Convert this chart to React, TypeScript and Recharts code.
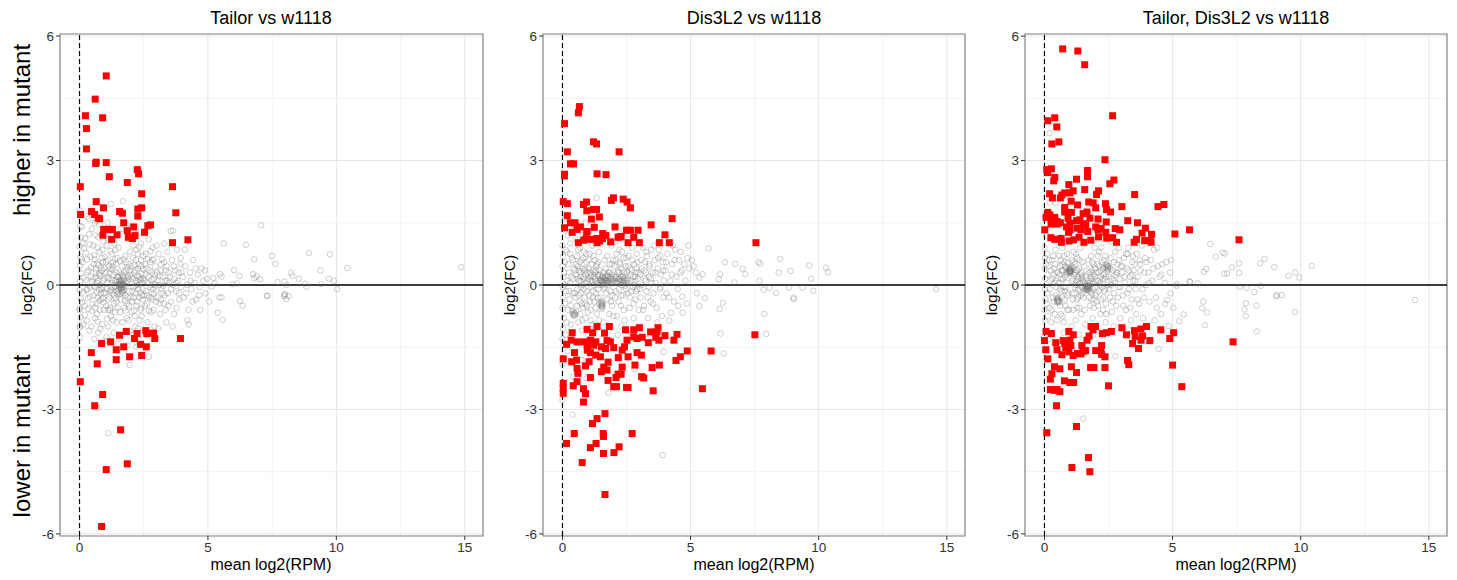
import React from 'react';
import { ScatterChart, Scatter, XAxis, YAxis, CartesianGrid, ReferenceLine, ReferenceArea } from 'recharts';

type Pt = [number, number];

const titles = ['Tailor vs w1118', 'Dis3L2 vs w1118', 'Tailor, Dis3L2 vs w1118'];
const xTicks = [0, 5, 10, 15];
const yTicks = [-6, -3, 0, 3, 6];
const xMinor = [2.5, 7.5, 12.5];
const yMinor = [-4.5, -1.5, 1.5, 4.5];

// ---- Tailor vs w1118 ----
const tailorSig: Pt[] = [
  [1.04, 5.04], [0.61, 4.48], [0.23, 4.08], [0.9, 4.03], [0.27, 3.77], [0.27, 3.28], [0.65, 2.96], [0.63, 2.93],
  [1.04, 2.95], [1.16, 2.61], [2.25, 2.78], [2.3, 2.68], [1.86, 2.47], [0.03, 2.37], [3.62, 2.37], [2.42, 2.2],
  [0.65, 2.01], [0.04, 1.7], [0.47, 1.77], [0.59, 1.7], [0.73, 1.61], [0.78, 1.6], [0.93, 1.86], [1.56, 1.77],
  [1.67, 1.73], [1.72, 1.5], [2.27, 1.83], [2.42, 1.86], [2.27, 1.66], [3.75, 1.74], [0.94, 1.34], [1.07, 1.34],
  [1.17, 1.34], [1.28, 1.34], [0.91, 1.2], [1.25, 1.1], [1.46, 1.21], [1.86, 1.31], [1.9, 1.15], [2.06, 1.12],
  [2.16, 1.19], [2.11, 1.4], [2.53, 1.27], [2.66, 1.43], [2.76, 1.45], [3.62, 1.02], [4.22, 1.09],
  [1.82, -1.12], [1.56, -1.21], [2.24, -1.17], [2.14, -1.29], [2.58, -1.1], [2.62, -1.17], [2.88, -1.16], [2.93, -1.29],
  [3.93, -1.29], [1.21, -1.37], [0.86, -1.41], [1.72, -1.49], [1.43, -1.56], [2.38, -1.43], [2.6, -1.49], [0.46, -1.63],
  [1.43, -1.8], [1.95, -1.73], [2.42, -1.7], [0.69, -1.9], [0.03, -2.33], [0.9, -2.64], [0.59, -2.91], [1.6, -3.49],
  [1.86, -4.31], [1.04, -4.45], [0.86, -5.82],
];

const tailorAll: Pt[] = [
  [0.0, 1.79], [0.03, 1.42], [0.05, 1.15], [0.0, 0.92], [0.04, 0.68], [0.01, 0.47], [0.06, 0.28], [0.02, 0.08],
  [0.0, -0.12], [0.05, -0.33], [0.01, -0.56], [0.04, -0.78], [0.0, -1.02], [0.03, -1.26], [0.12, 0.55], [0.15, -0.18],
  [0.18, 0.88], [0.2, -0.5], [0.22, 1.12], [0.25, 0.12], [0.28, -0.86], [0.3, 0.62], [0.33, -0.32], [0.36, 0.35],
  [0.38, -1.1], [0.4, 0.98], [0.42, -0.05], [0.45, 0.42], [0.47, -0.62], [0.48, 1.35], [0.1, 1.4], [0.35, 1.6],
  [0.15, -0.95], [0.3, -0.1], [0.44, 0.2],
  [0.08, 0.62], [0.11, -0.42], [0.14, 1.02], [0.17, 0.18], [0.21, -0.72], [0.24, 0.78], [0.27, -0.12], [0.31, 0.32],
  [0.34, -0.58], [0.37, 1.22], [0.41, -0.28], [0.43, 0.68], [0.46, -1.0], [0.49, 0.08],
  [0.52, 0.15], [0.55, -0.25], [0.57, 0.72], [0.6, -0.8], [0.62, 1.2], [0.64, 0.3], [0.66, -0.45], [0.68, 0.05],
  [0.7, 0.9], [0.72, -1.15], [0.74, 0.48], [0.76, -0.12], [0.78, 1.45], [0.8, -0.6], [0.82, 0.22], [0.84, -0.35],
  [0.86, 0.65], [0.88, -0.95], [0.9, 0.1], [0.92, 1.05], [0.94, -0.2], [0.96, 0.4], [0.98, -1.35], [0.55, 0.5],
  [0.6, -0.05], [0.65, 1.55], [0.7, -0.3], [0.75, 0.25], [0.8, 0.0], [0.85, -0.1], [0.9, 0.55], [0.95, -0.6],
  [0.58, -1.3], [0.68, -0.7], [0.78, 0.8], [0.88, 0.35], [0.93, -0.42], [0.73, 0.1], [0.83, -0.2], [0.63, 0.38],
  [0.51, -0.45], [0.53, 0.95], [0.56, -0.02], [0.59, 0.62], [0.61, -0.55], [0.63, 0.18], [0.67, -0.18], [0.69, 0.52],
  [0.71, -0.88], [0.73, 1.15], [0.77, -0.38], [0.79, 0.28], [0.81, -1.05], [0.83, 0.42], [0.87, -0.05], [0.89, 0.85],
  [0.91, -0.32], [0.97, 0.15], [0.99, 0.68],
  [1.02, 0.3], [1.04, -0.5], [1.06, 0.95], [1.08, -0.1], [1.1, 0.6], [1.12, -1.0], [1.14, 0.15], [1.16, -0.3],
  [1.18, 1.3], [1.2, 0.4], [1.22, -0.75], [1.24, 0.05], [1.26, 0.75], [1.28, -0.2], [1.3, -1.4], [1.32, 0.25],
  [1.34, -0.45], [1.36, 1.0], [1.38, 0.1], [1.4, -0.05], [1.42, 0.5], [1.44, -0.9], [1.46, -0.15], [1.48, 0.2],
  [1.05, -1.25], [1.1, 1.5], [1.15, 0.45], [1.2, -0.55], [1.25, -0.05], [1.3, 0.55], [1.35, -0.25], [1.4, 0.85],
  [1.45, -0.4], [1.08, 0.2], [1.18, -0.15], [1.28, 0.12], [1.38, -0.65], [1.48, 0.65], [1.22, 1.95], [1.33, -1.15],
  [1.12, -0.6], [1.43, 0.3], [1.27, 0.38], [1.37, -0.02], [1.47, -0.22],
  [1.01, -0.18], [1.03, 0.55], [1.07, -0.82], [1.09, 0.05], [1.11, 1.12], [1.13, -0.35], [1.17, 0.28], [1.19, -0.6],
  [1.21, 0.82], [1.23, -0.12], [1.29, 0.45], [1.31, -0.85], [1.39, 0.62], [1.41, -0.32], [1.44, 0.12], [1.49, -0.55],
  [1.5, 0.0], [1.52, -0.1], [1.54, 0.08], [1.56, -0.05], [1.58, 0.02], [1.6, -0.08], [1.62, 0.05], [1.64, -0.12],
  [1.66, 0.0], [1.68, -0.04], [1.55, 0.3], [1.6, -0.35], [1.65, 0.45], [1.7, -0.2], [1.72, 0.18], [1.75, -0.55],
  [1.78, 0.7], [1.8, -0.02], [1.82, 0.35], [1.84, -0.8], [1.86, 0.1], [1.88, -0.3], [1.9, 1.1], [1.92, 0.5],
  [1.94, -0.15], [1.96, -1.1], [1.98, 0.25], [1.52, 0.9], [1.57, -0.65], [1.62, 1.35], [1.67, -0.9], [1.72, 0.62],
  [1.77, -0.38], [1.82, 1.45], [1.87, -1.45], [1.92, -0.5], [1.97, 0.8], [1.53, -1.3], [1.63, 0.25], [1.73, -0.12],
  [1.83, 0.05], [1.93, 0.15], [1.58, 0.58], [1.68, 0.22], [1.78, -0.25], [1.88, 0.42], [1.61, 0.12], [1.65, -0.18],
  [1.59, -0.22], [1.7, 0.08],
  [1.51, 0.2], [1.53, -0.18], [1.55, 0.1], [1.57, 0.0], [1.59, 0.06], [1.6, -0.02], [1.61, 0.0], [1.62, -0.05],
  [1.63, 0.03], [1.64, -0.08], [1.66, 0.1], [1.67, -0.15], [1.69, 0.02], [1.71, -0.06], [1.73, 0.3], [1.76, 0.12],
  [1.79, -0.62], [1.81, 0.55], [1.85, -0.45], [1.89, 0.2], [1.91, -0.85], [1.95, 0.35], [1.99, -0.3],
  [2.02, 0.2], [2.05, -0.4], [2.08, 0.65], [2.1, -0.05], [2.12, 1.15], [2.15, -0.75], [2.18, 0.35], [2.2, -0.2],
  [2.22, 0.85], [2.25, 0.0], [2.28, -1.05], [2.3, 0.5], [2.32, -0.3], [2.35, 0.15], [2.38, 1.0], [2.4, -0.55],
  [2.42, 0.28], [2.45, -0.1], [2.48, 0.7], [2.04, 1.4], [2.1, -1.2], [2.16, 0.05], [2.22, -0.5], [2.28, 0.4],
  [2.34, -0.85], [2.4, 0.6], [2.46, -0.35], [2.06, -0.15], [2.14, 0.48], [2.26, 0.22], [2.36, -0.18], [2.44, 0.05],
  [2.2, 1.35], [2.3, -1.45], [2.12, -0.62], [2.32, 0.92], [2.18, -0.02], [2.42, -0.75], [2.48, 0.38], [2.38, 0.12],
  [2.01, 0.45], [2.03, -0.65], [2.07, 0.15], [2.09, 0.95], [2.11, -0.3], [2.13, 0.3], [2.17, -1.0], [2.19, 0.6],
  [2.21, 0.1], [2.24, -0.4], [2.27, 0.75], [2.29, -0.1], [2.31, 0.2], [2.37, -0.6], [2.39, 0.45], [2.43, -0.25],
  [2.47, 0.15],
  [2.52, 0.1], [2.55, -0.5], [2.58, 0.75], [2.6, -0.15], [2.62, 0.4], [2.65, -0.9], [2.68, 0.2], [2.7, 1.1],
  [2.72, -0.3], [2.75, 0.55], [2.78, 0.0], [2.8, -0.65], [2.82, 0.3], [2.85, 0.9], [2.88, -0.2], [2.9, 0.15],
  [2.92, -1.0], [2.95, 0.45], [2.98, -0.4], [2.54, 1.3], [2.6, -1.2], [2.66, 0.62], [2.74, -0.05], [2.84, -0.35],
  [2.9, 0.62], [2.56, 0.25], [2.7, -0.62], [2.8, 0.12], [2.94, 0.0], [2.64, -0.25], [2.76, 0.82], [2.86, -0.1],
  [2.51, -0.25], [2.57, 0.5], [2.63, -0.45], [2.67, 0.05], [2.73, 0.35], [2.79, -0.3], [2.83, 0.6], [2.89, -0.6],
  [2.93, 0.25], [2.97, -0.15],
  [3.02, 0.3], [3.05, -0.3], [3.08, 0.75], [3.1, 0.0], [3.14, -0.7], [3.18, 0.5], [3.2, -0.1], [3.24, 0.2],
  [3.28, -0.45], [3.3, 1.0], [3.34, 0.1], [3.38, -0.9], [3.4, 0.45], [3.44, -0.2], [3.48, 0.05], [3.06, -1.05],
  [3.12, 0.22], [3.22, 0.62], [3.32, -0.25], [3.42, 0.8], [3.16, -0.35], [3.36, 0.35], [3.46, -0.5], [3.26, -0.02],
  [3.0, 0.95], [3.04, 0.1], [3.11, -0.45], [3.17, 0.35], [3.23, -0.2], [3.29, 0.55], [3.35, -0.6], [3.41, 0.1],
  [3.47, 0.3],
  [3.52, 0.2], [3.56, -0.4], [3.6, 0.6], [3.64, 0.0], [3.68, -0.7], [3.72, 0.35], [3.76, -0.15], [3.8, 0.85],
  [3.84, 0.1], [3.88, -0.35], [3.92, 0.5], [3.96, -0.05], [3.55, 1.3], [3.62, -1.0], [3.7, 0.15], [3.78, -0.55],
  [3.86, 0.3], [3.94, 0.65], [3.57, -0.1], [3.67, 0.45], [3.77, 0.05], [3.87, -0.2], [3.97, 0.3],
  [4.02, 0.2], [4.06, -0.3], [4.12, 0.45], [4.18, 0.0], [4.24, -0.6], [4.3, 0.3], [4.36, -0.1], [4.42, 0.6],
  [4.48, 0.05], [4.55, -0.35], [4.6, 0.25], [4.68, -0.05], [4.75, 0.4], [4.82, 0.1], [4.9, -0.2], [4.96, 0.15],
  [4.1, 0.85], [4.2, -0.85], [4.4, -0.4], [4.7, -0.6], [4.15, -0.2], [4.33, 0.1], [4.52, 0.4], [4.65, -0.25],
  [4.88, 0.35],
  [5.05, -0.4], [5.14, -0.04], [5.21, 0.17], [5.27, 0.04], [5.38, -0.67], [5.44, -0.3], [5.47, 0.26], [5.53, 0.2],
  [5.53, -0.3], [5.57, -0.84], [5.61, 1.0], [5.96, 0.02], [6.02, 0.36], [6.13, 0.04], [6.22, 0.22], [6.25, -0.39],
  [6.35, -0.5], [6.48, 0.97], [6.75, 0.26], [6.8, 0.16], [6.8, 0.62], [6.9, 0.2], [7.03, 0.14], [7.07, 1.44],
  [7.29, -0.26], [7.32, -0.26], [7.5, 0.7], [7.63, 0.51], [7.71, 0.07], [7.97, -0.28], [7.98, 0.08], [7.98, -0.24],
  [8.0, -0.22], [8.05, 0.0], [8.05, -0.34], [8.14, -0.27], [8.24, 0.29], [8.29, 0.22], [8.54, 0.15], [8.79, 0.03],
  [8.83, -0.04], [8.93, 0.77], [9.38, 0.35], [9.41, 0.02], [9.71, 0.15], [9.75, 0.74], [9.9, 0.1], [10.03, -0.1],
  [10.43, 0.41], [14.86, 0.43],
  [2.21, -1.49], [2.7, -1.73], [1.95, -1.93], [1.12, -3.57], [0.69, -2.96], [0.0, -0.6], [0.02, -1.0], [1.69, 2.02],
  [3.64, 1.31], [4.25, -0.95], [0.3, 1.65], [0.6, 1.5], [2.6, -1.5],
];

// ---- Dis3L2 vs w1118 ----
const dis3Sig: Pt[] = [
  [0.66, 4.3], [0.62, 4.15], [0.08, 3.89], [0.19, 3.21], [1.21, 3.45], [1.33, 3.4], [2.21, 3.21], [0.31, 2.92],
  [0.43, 2.92], [0.08, 2.67], [0.08, 2.63], [1.35, 2.68], [1.7, 2.66], [0.03, 2.01], [0.19, 1.96], [0.82, 1.94],
  [0.94, 2.0], [1.21, 1.82], [1.33, 1.82], [0.95, 1.79], [1.91, 2.04], [1.99, 2.1], [2.37, 2.07], [2.52, 2.0],
  [2.65, 1.86], [0.19, 1.67], [1.13, 1.59], [1.44, 1.64], [4.28, 1.6], [0.31, 1.5], [0.49, 1.5], [0.08, 1.38],
  [0.38, 1.27], [0.57, 1.34], [0.7, 1.4], [0.96, 1.29], [1.24, 1.39], [2.05, 1.4], [3.46, 1.45], [2.5, 1.32],
  [2.65, 1.32], [2.95, 1.32], [4.0, 1.21], [1.57, 1.24], [1.69, 1.19], [2.17, 1.15], [2.29, 1.17], [1.35, 1.12],
  [1.56, 1.12], [0.92, 1.12], [2.78, 1.15], [0.62, 1.02], [0.83, 1.08], [1.35, 1.02], [1.88, 1.04], [2.56, 1.02],
  [3.0, 1.02], [3.78, 1.02], [4.17, 1.02], [7.55, 1.02], [0.95, 1.28], [2.25, 1.16], [1.45, 1.06], [1.1, 1.1],
  [1.35, -1.0], [1.83, -1.0], [3.0, -1.03], [3.73, -1.03], [0.96, -1.07], [2.46, -1.08], [2.78, -1.08], [3.44, -1.13],
  [3.69, -1.13], [0.38, -1.15], [1.18, -1.15], [1.64, -1.16], [4.47, -1.19], [7.51, -1.2], [4.0, -1.22], [2.78, -1.25],
  [3.11, -1.26], [2.52, -1.33], [2.91, -1.29], [3.64, -1.26], [3.76, -1.33], [0.34, -1.33], [0.57, -1.37], [0.83, -1.37],
  [1.09, -1.33], [1.3, -1.37], [1.74, -1.34], [1.87, -1.37], [0.16, -1.43], [0.96, -1.45], [1.22, -1.45], [3.35, -1.39],
  [4.35, -1.33], [1.52, -1.49], [1.68, -1.53], [2.0, -1.51], [2.42, -1.49], [2.33, -1.57], [0.97, -1.57], [1.09, -1.63],
  [1.3, -1.69], [1.48, -1.73], [0.47, -1.63], [2.91, -1.63], [3.08, -1.69], [4.87, -1.59], [5.8, -1.59], [0.03, -1.78],
  [2.18, -1.75], [2.56, -1.73], [4.6, -1.73], [4.43, -1.82], [0.36, -1.85], [0.55, -1.81], [1.04, -1.85], [1.78, -1.86],
  [2.83, -1.93], [3.78, -1.93], [0.9, -1.95], [0.57, -2.01], [1.61, -1.98], [2.33, -1.98], [3.5, -1.99], [1.52, -2.09],
  [1.74, -2.05], [0.6, -2.13], [2.29, -2.15], [2.17, -2.15], [1.09, -2.23], [2.09, -2.23], [3.09, -2.21], [3.17, -2.24],
  [1.78, -2.3], [0.57, -2.33], [0.03, -2.37], [0.42, -2.43], [2.0, -2.45], [2.11, -2.45], [2.5, -2.47], [2.56, -2.47],
  [0.03, -2.49], [0.03, -2.61], [0.82, -2.5], [3.54, -2.55], [5.46, -2.5], [0.9, -2.62], [0.82, -2.82], [1.66, -3.1],
  [1.35, -3.22], [1.17, -3.34], [0.46, -3.58], [1.59, -3.58], [1.6, -3.65], [2.72, -3.58], [0.16, -3.82], [1.31, -3.82],
  [1.09, -3.92], [2.21, -3.9], [1.6, -4.06], [2.01, -4.04], [0.77, -4.28], [1.66, -5.05],
];

const dis3All: Pt[] = [
  [0.0, 0.95], [0.02, 0.7], [0.0, 0.45], [0.04, 0.2], [0.01, -0.05], [0.03, -0.3], [0.0, -0.55], [0.05, -0.8],
  [0.02, -1.05], [0.0, -1.3], [0.1, 0.55], [0.14, -0.15], [0.18, 0.8], [0.22, -0.6], [0.25, 0.3], [0.28, -0.35],
  [0.3, 0.05], [0.33, -0.95], [0.36, 0.65], [0.4, -0.7], [0.42, 0.15], [0.45, -0.75], [0.48, -0.2], [0.2, 1.2],
  [0.38, -0.62], [0.46, -0.68], [0.12, -1.2], [0.3, 1.0], [0.44, 0.4], [0.08, 0.0],
  [0.06, 0.3], [0.09, -0.45], [0.12, 0.85], [0.16, -0.9], [0.19, 0.1], [0.23, 0.5], [0.26, -0.15], [0.29, 0.75],
  [0.32, -0.5], [0.35, 0.2], [0.39, -0.2], [0.41, 0.6], [0.43, -0.72], [0.44, -0.65], [0.47, -0.7], [0.49, 0.35],
  [0.52, 0.25], [0.54, -0.65], [0.56, 0.7], [0.58, -0.1], [0.6, 0.45], [0.62, -0.9], [0.64, 0.1], [0.66, -0.4],
  [0.68, 0.9], [0.7, 0.3], [0.72, -0.2], [0.74, 0.6], [0.76, -1.1], [0.78, 0.0], [0.8, -0.55], [0.82, 0.2],
  [0.84, 0.8], [0.86, -0.3], [0.88, 0.4], [0.9, -0.8], [0.92, 0.05], [0.94, 0.55], [0.96, -0.15], [0.98, 0.3],
  [0.5, -0.72], [0.55, 1.1], [0.65, 0.35], [0.75, -0.45], [0.85, 0.15], [0.95, -0.5], [0.6, -1.4], [0.8, 1.2],
  [0.7, 0.1], [0.9, 0.25],
  [0.51, -0.3], [0.53, 0.5], [0.57, -0.5], [0.59, 0.15], [0.61, 0.85], [0.63, -0.25], [0.67, 0.55], [0.69, -0.7],
  [0.71, 0.2], [0.73, -0.05], [0.77, 0.4], [0.79, -0.85], [0.81, 0.65], [0.83, -0.1], [0.87, 0.35], [0.89, -0.45],
  [0.93, 0.75], [0.97, 0.1], [0.99, -0.65],
  [1.02, 0.4], [1.04, -0.25], [1.06, 0.75], [1.08, 0.1], [1.1, -0.6], [1.12, 0.25], [1.14, -0.05], [1.16, 0.95],
  [1.18, -0.95], [1.2, 0.35], [1.22, 0.0], [1.24, -0.4], [1.26, 0.6], [1.28, 0.15], [1.3, -0.2], [1.32, 0.45],
  [1.34, -0.7], [1.36, 0.05], [1.38, 0.25], [1.4, -0.1], [1.42, 0.8], [1.44, -0.45], [1.46, 0.12], [1.48, -0.3],
  [1.05, 1.3], [1.15, -1.25], [1.25, 0.3], [1.35, 0.5], [1.45, 0.35], [1.1, 0.2], [1.3, 0.1], [1.4, 0.2],
  [1.2, -0.15], [1.33, 2.1], [1.27, -1.05],
  [1.01, 0.15], [1.03, 0.6], [1.07, -0.4], [1.09, 0.3], [1.11, -0.85], [1.13, 0.5], [1.17, 0.1], [1.19, -0.3],
  [1.21, 0.7], [1.23, 0.2], [1.29, -0.55], [1.31, 0.35], [1.37, -0.3], [1.39, 0.55], [1.41, 0.0], [1.43, -0.85],
  [1.47, 0.25], [1.49, 0.1],
  [1.5, -0.45], [1.52, -0.5], [1.54, -0.47], [1.53, -0.52], [1.55, -0.42], [1.51, -0.4], [1.56, -0.55],
  [1.52, -0.58], [1.55, -0.5], [1.58, -0.45],
  [1.5, 0.1], [1.55, 0.2], [1.58, 0.0], [1.6, 0.3], [1.62, -0.1], [1.64, 0.15], [1.66, 0.05], [1.68, 0.4],
  [1.7, -0.2], [1.72, 0.1], [1.74, 0.7], [1.76, -0.35], [1.78, 0.2], [1.8, 0.0], [1.82, -0.7], [1.84, 0.5],
  [1.86, 0.12], [1.88, -0.15], [1.9, 0.95], [1.92, 0.25], [1.94, -0.5], [1.96, 0.05], [1.98, 0.6], [1.6, -0.9],
  [1.7, 1.2], [1.8, -1.1], [1.65, 0.6], [1.75, 0.25], [1.85, 0.3], [1.95, -0.25], [1.57, 0.08], [1.69, 0.12],
  [1.79, 0.05], [1.9, 0.15],
  [1.52, 0.15], [1.54, 0.05], [1.56, 0.1], [1.58, 0.2], [1.6, 0.08], [1.63, 0.12], [1.65, -0.05], [1.67, 0.18],
  [1.71, 0.05], [1.73, 0.22], [1.77, 0.1], [1.81, 0.3], [1.83, 0.05], [1.87, 0.2], [1.89, -0.4], [1.91, 0.08],
  [1.93, 0.5], [1.97, 0.15], [1.99, -0.75],
  [2.02, 0.2], [2.05, -0.3], [2.08, 0.6], [2.1, 0.05], [2.12, -0.75], [2.15, 0.3], [2.18, 0.1], [2.2, -0.1],
  [2.22, 0.85], [2.25, 0.15], [2.28, -0.5], [2.3, 0.4], [2.32, 0.0], [2.35, -0.25], [2.38, 0.65], [2.4, 0.1],
  [2.42, -0.85], [2.45, 0.25], [2.48, -0.1], [2.06, 1.05], [2.16, -1.2], [2.26, 0.5], [2.36, 0.2], [2.46, 0.45],
  [2.12, 0.15], [2.24, 0.08], [2.34, 0.12], [2.44, -0.02], [2.2, 0.3], [2.3, -1.0],
  [2.01, 0.1], [2.03, 0.45], [2.07, -0.15], [2.09, 0.2], [2.11, 0.75], [2.13, 0.05], [2.17, 0.35], [2.19, -0.4],
  [2.21, 0.15], [2.23, 0.55], [2.27, 0.1], [2.29, -0.25], [2.31, 0.2], [2.33, 0.8], [2.37, 0.05], [2.39, -0.6],
  [2.41, 0.3], [2.43, 0.15], [2.47, 0.05], [2.49, 0.65],
  [2.52, 0.3], [2.55, -0.2], [2.58, 0.7], [2.6, 0.05], [2.62, -0.55], [2.65, 0.4], [2.68, 0.1], [2.7, -0.15],
  [2.72, 0.9], [2.75, 0.2], [2.78, -0.8], [2.8, 0.5], [2.82, 0.0], [2.85, -0.35], [2.88, 0.3], [2.9, 0.75],
  [2.92, -0.1], [2.95, 0.15], [2.98, -0.6], [2.6, 1.1], [2.7, 0.35], [2.8, -1.1], [2.9, 0.4], [2.55, 0.12],
  [2.75, -0.05], [2.85, 0.1], [2.51, 0.1], [2.57, 0.45], [2.63, -0.3], [2.67, 0.25], [2.73, 0.6], [2.77, -0.45],
  [2.83, 0.2], [2.87, -0.15], [2.93, 0.55], [2.97, 0.3],
  [3.02, 0.25], [3.05, -0.3], [3.08, 0.6], [3.1, 0.0], [3.14, 0.9], [3.18, -0.5], [3.2, 0.35], [3.24, 0.1],
  [3.28, -0.15], [3.3, 0.7], [3.34, -0.8], [3.38, 0.2], [3.4, 0.45], [3.44, -0.4], [3.48, 0.05], [3.12, -1.0],
  [3.22, 0.55], [3.36, -0.05], [3.46, 0.85], [3.26, 0.3], [3.03, -0.1], [3.09, 0.4], [3.15, -0.6], [3.21, 0.15],
  [3.27, 0.8], [3.33, -0.3], [3.39, 0.5], [3.45, 0.15],
  [3.52, 0.3], [3.55, -0.2], [3.6, 0.6], [3.64, 0.05], [3.68, -0.55], [3.72, 0.4], [3.76, 0.85], [3.8, -0.1],
  [3.84, 0.25], [3.88, -0.75], [3.92, 0.55], [3.96, 0.1], [3.58, 0.95], [3.7, -0.9], [3.82, 0.7], [3.94, -0.3],
  [3.53, -0.45], [3.63, 0.3], [3.73, 0.65], [3.83, -0.05], [3.93, 0.35],
  [4.02, 0.35], [4.06, -0.2], [4.1, 0.75], [4.17, -0.86], [4.24, -0.67], [4.2, 0.1], [4.28, 0.5], [4.35, -0.4],
  [4.4, 0.85], [4.45, 0.2], [4.5, -0.1], [4.55, 0.6], [4.6, 0.3], [4.68, -0.28], [4.69, -0.67], [4.75, 0.5],
  [4.8, 0.1], [4.91, 0.95], [4.95, 0.4], [4.85, -0.45], [4.3, 0.95], [4.62, 0.8], [4.04, 0.55], [4.15, -0.3],
  [4.27, 0.25], [4.38, 0.6], [4.52, -0.5], [4.66, 0.35], [4.88, 0.65],
  [5.05, 0.6], [5.12, 0.45], [5.2, 0.3], [5.25, -0.2], [5.34, 0.18], [5.34, -0.51], [5.47, 0.26], [5.56, -0.32],
  [5.7, 0.88], [6.1, 0.14], [6.13, -0.58], [6.16, 0.26], [6.17, -1.17], [6.26, -0.43], [6.29, -1.65], [6.34, 0.55],
  [6.71, 0.06], [6.74, 0.51], [7.03, 0.39], [7.13, 0.26], [7.65, 0.55], [7.69, 0.1], [7.72, 0.51], [7.85, -0.12],
  [7.88, -0.7], [7.95, -1.18], [8.08, -0.07], [8.34, -0.19], [8.44, 0.3], [8.5, 0.63], [8.84, -0.06], [8.9, 0.34],
  [9.02, -0.31], [9.02, -0.34], [9.37, -0.06], [9.63, 0.47], [9.71, 0.15], [9.79, -0.14], [10.28, 0.42], [10.36, 0.31],
  [14.58, -0.1],
  [3.95, -1.61], [3.91, -4.1], [0.39, -3.13], [1.79, -2.6], [2.81, -2.03], [0.0, -2.77], [0.42, -2.21], [0.94, -2.25],
  [0.74, -1.81], [0.2, -1.6], [1.4, -1.5], [2.5, -1.35], [3.3, -1.3], [0.0, -1.9], [1.1, -1.7],
  [0.3, 1.4], [0.9, 1.5], [2.4, 1.3], [0.1, 1.6],
];

// ---- Tailor, Dis3L2 vs w1118 ----
const bothSig: Pt[] = [
  [0.71, 5.69], [1.3, 5.64], [1.57, 5.31], [0.4, 4.03], [0.13, 3.96], [2.66, 4.08], [0.48, 3.81], [0.29, 3.4],
  [0.56, 3.45], [2.36, 3.02], [0.09, 2.78], [0.27, 2.8], [0.13, 2.71], [1.68, 2.76], [1.68, 2.61], [0.4, 2.59],
  [0.36, 2.51], [1.25, 2.55], [2.71, 2.53], [2.55, 2.44], [0.95, 2.42], [1.57, 2.3], [2.11, 2.27], [2.03, 2.18],
  [1.12, 2.27], [0.99, 2.22], [0.2, 2.2], [0.31, 2.1], [0.68, 2.17], [0.79, 2.22], [0.62, 2.1], [3.52, 2.18],
  [1.04, 2.02], [1.29, 1.93], [1.73, 2.0], [1.9, 1.98], [2.38, 1.96], [3.02, 1.89], [4.43, 1.89], [4.66, 1.94],
  [0.79, 1.87], [0.79, 1.76], [2.0, 1.86], [0.13, 1.75], [0.21, 1.69], [0.06, 1.63], [1.05, 1.75], [1.51, 1.72],
  [1.66, 1.76], [2.42, 1.82], [2.58, 1.76], [0.26, 1.59], [0.4, 1.63], [0.49, 1.53], [0.62, 1.5], [0.92, 1.61],
  [0.99, 1.49], [1.25, 1.55], [1.38, 1.57], [1.51, 1.48], [1.77, 1.61], [2.09, 1.59], [2.41, 1.52], [3.25, 1.55],
  [3.63, 1.5], [0.26, 1.47], [0.49, 1.47], [0.86, 1.4], [0.99, 1.33], [0.94, 1.27], [1.27, 1.37], [1.42, 1.33],
  [1.61, 1.44], [1.69, 1.29], [2.0, 1.4], [2.09, 1.33], [2.21, 1.36], [2.39, 1.27], [2.76, 1.36], [2.94, 1.33],
  [3.94, 1.37], [3.81, 1.25], [4.18, 1.22], [5.09, 1.23], [5.66, 1.33], [0.01, 1.33], [0.25, 1.14], [0.4, 1.1],
  [0.65, 1.12], [0.66, 1.03], [0.96, 1.06], [1.14, 1.09], [1.35, 1.15], [1.54, 1.03], [1.81, 1.08], [2.11, 1.16],
  [2.43, 1.13], [2.66, 1.14], [2.81, 1.03], [3.5, 1.03], [3.59, 1.1], [3.91, 1.07], [4.13, 1.07], [4.16, 1.03],
  [7.59, 1.09],
  [0.06, -1.12], [0.27, -1.17], [0.0, -1.34], [0.05, -1.56], [0.13, -1.78], [0.95, -1.12], [1.12, -1.2], [0.44, -1.39],
  [0.49, -1.56], [0.73, -1.34], [0.79, -1.41], [0.83, -1.51], [0.99, -1.33], [1.03, -1.46], [0.68, -1.68], [0.95, -1.61],
  [1.12, -1.7], [1.29, -1.65], [1.42, -1.66], [1.51, -1.6], [1.6, -1.58], [1.46, -1.46], [1.66, -1.33], [1.74, -1.23],
  [1.82, -1.0], [1.99, -1.0], [1.89, -1.08], [2.26, -1.17], [2.42, -1.15], [2.61, -1.12], [3.02, -1.03], [3.2, -1.2],
  [3.51, -1.1], [3.54, -1.24], [3.44, -1.41], [3.67, -1.53], [3.76, -1.06], [3.98, -1.0], [3.83, -1.23], [3.77, -1.33],
  [4.11, -1.34], [4.54, -1.08], [5.04, -1.15], [4.89, -1.29], [7.36, -1.37], [2.0, -1.58], [2.19, -1.58], [2.23, -1.46],
  [2.36, -1.73], [2.23, -1.67], [3.24, -1.82], [3.29, -1.92], [5.0, -1.93], [0.39, -1.97], [0.6, -2.02], [1.05, -1.97],
  [1.25, -2.11], [1.8, -1.99], [1.93, -1.99], [2.36, -1.99], [0.29, -2.14], [0.23, -2.27], [0.78, -2.31], [0.99, -2.35],
  [1.14, -2.35], [2.5, -2.43], [5.36, -2.45], [0.23, -2.52], [0.39, -2.54], [0.49, -2.52], [0.6, -2.57], [0.47, -2.91],
  [0.09, -3.56], [1.25, -3.41], [1.72, -4.16], [1.07, -4.4], [1.77, -4.5],
];

const bothAll: Pt[] = [
  [0.0, 0.9], [0.02, 0.65], [0.0, 0.4], [0.03, 0.15], [0.01, -0.1], [0.04, -0.35], [0.0, -0.6], [0.02, -0.85],
  [0.05, -1.1], [0.1, 0.75], [0.13, -0.2], [0.16, 0.45], [0.2, -0.55], [0.23, 0.1], [0.26, -0.9], [0.3, 0.6],
  [0.33, -0.3], [0.36, 0.25], [0.4, -0.7], [0.43, 0.85], [0.46, -0.05], [0.48, -0.4], [0.2, 1.99], [0.44, 1.98],
  [0.2, 3.66], [0.08, 1.2], [0.25, 1.4], [0.38, 0.4], [0.15, -1.3], [0.45, 0.1],
  [0.06, 0.5], [0.09, -0.45], [0.11, 0.25], [0.14, -0.75], [0.18, 0.6], [0.21, -0.1], [0.24, 0.35], [0.28, -0.6],
  [0.31, 0.15], [0.34, 0.7], [0.37, -0.4], [0.39, 0.05], [0.41, 0.5], [0.44, -0.25], [0.47, 0.3], [0.49, -0.85],
  [0.52, 0.3], [0.53, -0.36], [0.55, -0.4], [0.57, 0.7], [0.6, -0.1], [0.62, 0.45], [0.64, -0.7], [0.66, 0.15],
  [0.68, -0.3], [0.7, 0.9], [0.72, 0.35], [0.74, -0.05], [0.76, -0.9], [0.78, 0.55], [0.8, 0.2], [0.82, -0.5],
  [0.84, 0.4], [0.86, 0.05], [0.88, 0.75], [0.9, -0.25], [0.92, 0.3], [0.94, 0.38], [0.96, -0.6], [0.98, 0.35],
  [0.5, -0.32], [0.58, -0.42], [0.65, 1.15], [0.75, -1.15], [0.85, 0.3], [0.95, 0.42], [0.97, 0.32], [0.55, 0.05],
  [0.7, 0.5], [0.8, -0.15],
  [0.5, -0.38], [0.51, -0.34], [0.54, -0.3], [0.56, -0.38], [0.52, -0.42], [0.59, 0.25], [0.61, -0.5], [0.63, 0.6],
  [0.67, -0.15], [0.69, 0.35], [0.71, -0.75], [0.73, 0.15], [0.77, 0.7], [0.79, -0.35], [0.81, 0.45], [0.83, -0.05],
  [0.87, 0.25], [0.89, -0.6], [0.91, 0.55], [0.93, -0.2], [0.96, 0.33], [0.99, 0.38], [0.98, 0.3],
  [1.0, 0.36], [1.02, 0.4], [1.01, 0.3], [1.04, 0.33], [1.06, 0.6], [1.08, -0.2], [1.1, 0.15], [1.12, -0.6],
  [1.14, 0.8], [1.16, 0.25], [1.18, -0.05], [1.2, 0.5], [1.22, -0.85], [1.24, 0.1], [1.26, -0.35], [1.28, 0.65],
  [1.3, 0.2], [1.32, -0.1], [1.34, 0.4], [1.36, -0.55], [1.38, 0.05], [1.4, 0.9], [1.42, -0.25], [1.44, 0.3],
  [1.46, -0.05], [1.48, 0.55], [1.05, -1.0], [1.15, 1.2], [1.25, 0.35], [1.35, -1.2], [1.45, 0.15], [1.1, 0.45],
  [1.3, 0.0],
  [1.0, 0.33], [1.02, 0.34], [1.03, 0.38], [1.05, 0.3], [1.07, 0.42], [1.09, 0.1], [1.11, -0.35], [1.13, 0.55],
  [1.17, -0.2], [1.19, 0.3], [1.21, 0.0], [1.23, 0.75], [1.27, -0.55], [1.29, 0.35], [1.31, -0.3], [1.33, 0.15],
  [1.37, 0.6], [1.39, -0.15], [1.41, 0.25], [1.43, -0.7], [1.47, 0.2], [1.49, -0.2],
  [1.5, 0.1], [1.52, -0.3], [1.55, 0.45], [1.58, -0.05], [1.6, 0.2], [1.62, -0.12], [1.65, -0.02], [1.67, -0.08],
  [1.7, -0.06], [1.72, -0.1], [1.69, -0.04], [1.74, 0.0], [1.68, 0.05], [1.73, -0.14], [1.76, 0.3], [1.78, -0.5],
  [1.8, 0.1], [1.82, 0.7], [1.84, -0.2], [1.86, 0.35], [1.88, -0.8], [1.9, 0.05], [1.92, 0.5], [1.94, -0.35],
  [1.96, 0.2], [1.98, -0.05], [1.55, 1.0], [1.6, -0.95], [1.7, 0.6], [1.75, -0.3], [1.8, 0.4], [1.85, 0.15],
  [1.95, 0.9], [1.65, 0.25], [1.57, -0.6], [1.9, -1.2], [1.51, -3.22],
  [1.53, 0.05], [1.56, -0.1], [1.59, 0.02], [1.61, -0.06], [1.63, -0.03], [1.64, -0.1], [1.66, -0.05], [1.68, -0.12],
  [1.71, -0.02], [1.72, -0.06], [1.75, -0.08], [1.77, 0.05], [1.79, -0.15], [1.81, 0.2], [1.83, -0.35], [1.87, 0.55],
  [1.89, -0.1], [1.91, 0.25], [1.93, -0.55], [1.97, 0.4], [1.99, -0.25],
  [2.02, 0.3], [2.05, -0.4], [2.08, 0.7], [2.1, 0.1], [2.12, -0.15], [2.15, 0.45], [2.18, -0.7], [2.2, 0.2],
  [2.22, 0.9], [2.25, -0.05], [2.28, 0.4], [2.3, -0.3], [2.32, 0.6], [2.35, 0.15], [2.38, -0.9], [2.4, 0.44],
  [2.42, 0.5], [2.45, 0.0], [2.48, 0.42], [2.5, 0.46], [2.46, 0.35], [2.1, -1.1], [2.2, 1.1], [2.3, 0.25],
  [2.4, -0.45], [2.15, 0.05], [2.35, -0.1],
  [2.01, 0.1], [2.03, -0.2], [2.07, 0.5], [2.09, -0.5], [2.11, 0.3], [2.13, 0.8], [2.17, 0.0], [2.19, 0.35],
  [2.21, -0.35], [2.23, 0.55], [2.27, 0.15], [2.29, -0.6], [2.31, 0.4], [2.33, -0.15], [2.37, 0.7], [2.39, 0.2],
  [2.41, -0.7], [2.43, 0.4], [2.44, 0.48], [2.47, 0.45], [2.49, 0.38],
  [2.52, 0.2], [2.55, -0.3], [2.58, 0.65], [2.6, 0.0], [2.63, -0.65], [2.66, 0.35], [2.7, 0.1], [2.72, -0.2],
  [2.75, 0.8], [2.77, -1.72], [2.78, 0.25], [2.8, -0.5], [2.84, 0.5], [2.88, -0.05], [2.9, 0.9], [2.93, 0.15],
  [2.96, -0.8], [2.6, 1.05], [2.7, -1.0], [2.85, 0.3], [2.98, 0.45], [2.53, -0.1], [2.57, 0.4], [2.62, 0.15],
  [2.67, -0.4], [2.71, 0.55], [2.76, 0.05], [2.81, 0.3], [2.86, -0.3], [2.91, 0.6], [2.95, -0.05],
  [3.02, 0.3], [3.06, -0.25], [3.1, 0.65], [3.14, 0.05], [3.18, -0.6], [3.22, 0.4], [3.26, 0.9], [3.3, -0.1],
  [3.34, 0.2], [3.38, -0.85], [3.42, 0.55], [3.46, 0.1], [3.1, -1.05], [3.25, 0.75], [3.4, -0.35], [3.48, 0.35],
  [3.04, 0.45], [3.08, -0.5], [3.13, 0.2], [3.19, 0.75], [3.24, -0.2], [3.29, 0.35], [3.35, -0.55], [3.41, 0.25],
  [3.45, 0.7],
  [3.52, 0.5], [3.56, -0.1], [3.6, 0.75], [3.65, 0.2], [3.7, -0.45], [3.75, 0.35], [3.8, 0.95], [3.85, -0.8],
  [3.9, 0.3], [3.95, 0.0], [3.58, -0.7], [3.72, 0.6], [3.88, -0.3], [3.98, 0.55], [3.54, 0.1], [3.63, -0.35],
  [3.74, 0.5], [3.83, -0.1], [3.93, 0.65],
  [4.05, 0.3], [4.1, -0.4], [4.15, 0.6], [4.2, 0.1], [4.28, 0.85], [4.35, -0.3], [4.42, 0.45], [4.46, -1.54],
  [4.5, 0.2], [4.55, -0.7], [4.6, 0.5], [4.71, -0.46], [4.79, -0.36], [4.84, -0.99], [4.9, 0.3], [4.95, 0.6],
  [4.3, -0.85], [4.7, 0.05], [4.4, 0.9], [4.08, 0.05], [4.25, 0.4], [4.38, -0.55], [4.56, 0.25], [4.75, 0.55],
  [4.92, -0.2],
  [5.03, -0.55], [5.16, 0.02], [5.16, -0.02], [5.26, -0.87], [5.43, -0.71], [5.66, 0.08], [5.68, 0.08], [5.98, 0.04],
  [6.16, -0.56], [6.2, -0.4], [6.22, 0.32], [6.27, -0.97], [6.31, 0.39], [6.35, -0.66], [6.47, 0.99], [6.69, 0.68],
  [6.95, 0.78], [7.02, 0.27], [7.04, 0.76], [7.13, 0.28], [7.32, 0.42], [7.6, 0.52], [7.6, 0.29], [7.63, -0.04],
  [7.8, -0.59], [7.86, -0.44], [7.86, -0.75], [7.89, -0.07], [8.19, -0.17], [8.28, -0.5], [8.29, -1.12], [8.42, 0.52],
  [8.44, -0.02], [8.59, 0.63], [8.97, 0.43], [9.04, -0.27], [9.06, -0.25], [9.26, -0.24], [9.52, 0.22], [9.77, -0.65],
  [9.78, 0.3], [9.95, 0.18], [10.43, 0.46], [14.46, -0.36],
];

const toXY = (pts: Pt[]) => pts.map(([x, y]) => ({ x, y }));

const Ring = (p: any) => (
  <circle cx={p.cx} cy={p.cy} r={2.8} fill="none" stroke="#6f6f6f" strokeOpacity={0.33} strokeWidth={1} />
);
const Box = (p: any) => <rect x={p.cx - 3.5} y={p.cy - 3.5} width={7} height={7} fill="#ff0000" />;

const X_DOMAIN: [number, number] = [-0.76, 15.71];
const Y_DOMAIN: [number, number] = [-6.05, 6.05];

interface PanelProps {
  left: number;
  width: number;
  axisW: number;
  right: number;
  all: Pt[];
  sig: Pt[];
}

const Panel: React.FC<PanelProps> = ({ left, width, axisW, right, all, sig }) => {
  const tick = { fill: '#333333', fontSize: 13.5 };
  return (
    <div style={{ position: 'absolute', left, top: 0 }}>
      <ScatterChart width={width} height={580} margin={{ top: 34, right, bottom: 8, left: 0 }}>
        <CartesianGrid stroke="#f3f3f3" horizontalValues={yMinor} verticalValues={xMinor} />
        <CartesianGrid stroke="#e6e6e6" />
        <XAxis
          type="number"
          dataKey="x"
          domain={X_DOMAIN}
          ticks={xTicks}
          interval={0}
          allowDataOverflow
          axisLine={false}
          tickSize={4}
          tickLine={{ stroke: '#333333' }}
          tick={tick}
          height={36}
        />
        <YAxis
          type="number"
          dataKey="y"
          domain={Y_DOMAIN}
          ticks={yTicks}
          interval={0}
          allowDataOverflow
          axisLine={false}
          tickSize={4}
          tickLine={{ stroke: '#333333' }}
          tick={tick}
          width={axisW}
        />
        <Scatter data={toXY(all)} shape={Ring} isAnimationActive={false} />
        <ReferenceLine y={0} stroke="#000000" strokeWidth={1.3} />
        <ReferenceLine x={0} stroke="#000000" strokeWidth={1.2} strokeDasharray="5 3" />
        <Scatter data={toXY(sig)} shape={Box} isAnimationActive={false} />
        <ReferenceArea x1={X_DOMAIN[0]} x2={X_DOMAIN[1]} y1={Y_DOMAIN[0]} y2={Y_DOMAIN[1]} fill="none" stroke="#8a8a8a" strokeWidth={1.2} fillOpacity={0} />
      </ScatterChart>
    </div>
  );
};

const Label: React.FC<{ x: number; y: number; size: number; rotate?: boolean; children: React.ReactNode }> = ({ x, y, size, rotate, children }) => (
  <div
    style={{
      position: 'absolute',
      left: x,
      top: y,
      transform: `translate(-50%, -50%)${rotate ? ' rotate(-90deg)' : ''}`,
      fontSize: size,
      lineHeight: 1,
      whiteSpace: 'nowrap',
      color: '#000',
    }}
  >
    {children}
  </div>
);

export default function App() {
  return (
    <div
      style={{
        position: 'absolute',
        left: 0,
        top: 0,
        width: 1457,
        height: 580,
        background: '#ffffff',
        fontFamily: '"Liberation Sans", Arial, Helvetica, sans-serif',
        overflow: 'hidden',
      }}
    >
      <Panel left={0} width={490} axisW={60} right={7} all={tailorAll} sig={tailorSig} />
      <Panel left={490} width={480} axisW={53} right={5} all={dis3All} sig={dis3Sig} />
      <Panel left={970} width={487} axisW={55} right={10} all={bothAll} sig={bothSig} />

      <Label x={271} y={18} size={18}>{titles[0]}</Label>
      <Label x={754} y={18} size={18}>{titles[1]}</Label>
      <Label x={1236} y={18} size={18}>{titles[2]}</Label>

      <Label x={271} y={565} size={16}>mean log2(RPM)</Label>
      <Label x={754} y={565} size={16}>mean log2(RPM)</Label>
      <Label x={1236} y={565} size={16}>mean log2(RPM)</Label>

      <Label x={27} y={285} size={15.5} rotate>log2(FC)</Label>
      <Label x={510} y={285} size={15.5} rotate>log2(FC)</Label>
      <Label x={992} y={285} size={15.5} rotate>log2(FC)</Label>

      <Label x={22} y={130} size={24} rotate>higher in mutant</Label>
      <Label x={22} y={436} size={24} rotate>lower in mutant</Label>
    </div>
  );
}
